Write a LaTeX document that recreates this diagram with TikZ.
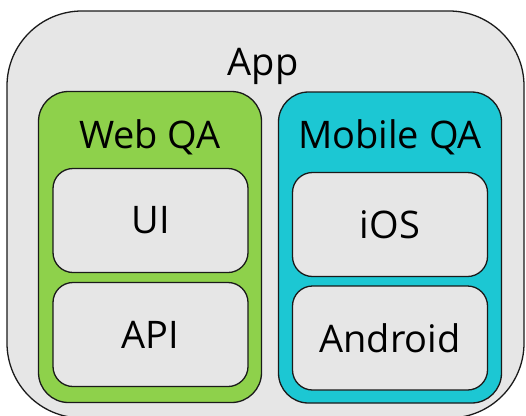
\documentclass[tikz,border=0pt]{standalone}
\usepackage{fontspec}
\setmainfont{Open Sans}
\usetikzlibrary{positioning}
\definecolor{appgray}{HTML}{E6E6E6}
\definecolor{webgreen}{HTML}{8ED14B}
\definecolor{mobcyan}{HTML}{1CC7D3}
\definecolor{edgeblack}{HTML}{1A1A1A}

\begin{document}
\begin{tikzpicture}[x=1pt, y=-1pt,
    box/.style={rectangle, draw=edgeblack, line width=1.3pt, fill=#1, inner sep=0pt},
    group/.style={box=#1, rounded corners=30pt,
                  minimum width=223pt, minimum height=311pt},
    item/.style={box=appgray, rounded corners=20pt,
                 minimum width=195pt, minimum height=104pt,
                 font=\fontsize{38}{40}\selectfont},
    lbl/.style={anchor=base, font=\fontsize{38}{40}\selectfont}
]
\useasboundingbox (0,0) rectangle (526,415);
\node[box=appgray, rounded corners=75pt,
      minimum width=517pt, minimum height=407pt] (app) at (265.5, 214.5) {};
\node[lbl] (applbl) at (263, 75) {App};

\node[group=webgreen] (web)    at (150, 247) {};
\node[group=mobcyan]  (mobile) at (390, 247.5) {};
\node[lbl] (weblbl)    at (150, 148) {Web QA};
\node[lbl] (mobilelbl) at (390, 148) {Mobile QA};

\node[item] (ui)      at (150.5, 220.5) {UI};
\node[item] (api)     at (150.5, 334.5) {API};
\node[item] (ios)     at (390, 224.5)   {iOS};
\node[item] (android) at (390, 338)     {Android};
\end{tikzpicture}
\end{document}
